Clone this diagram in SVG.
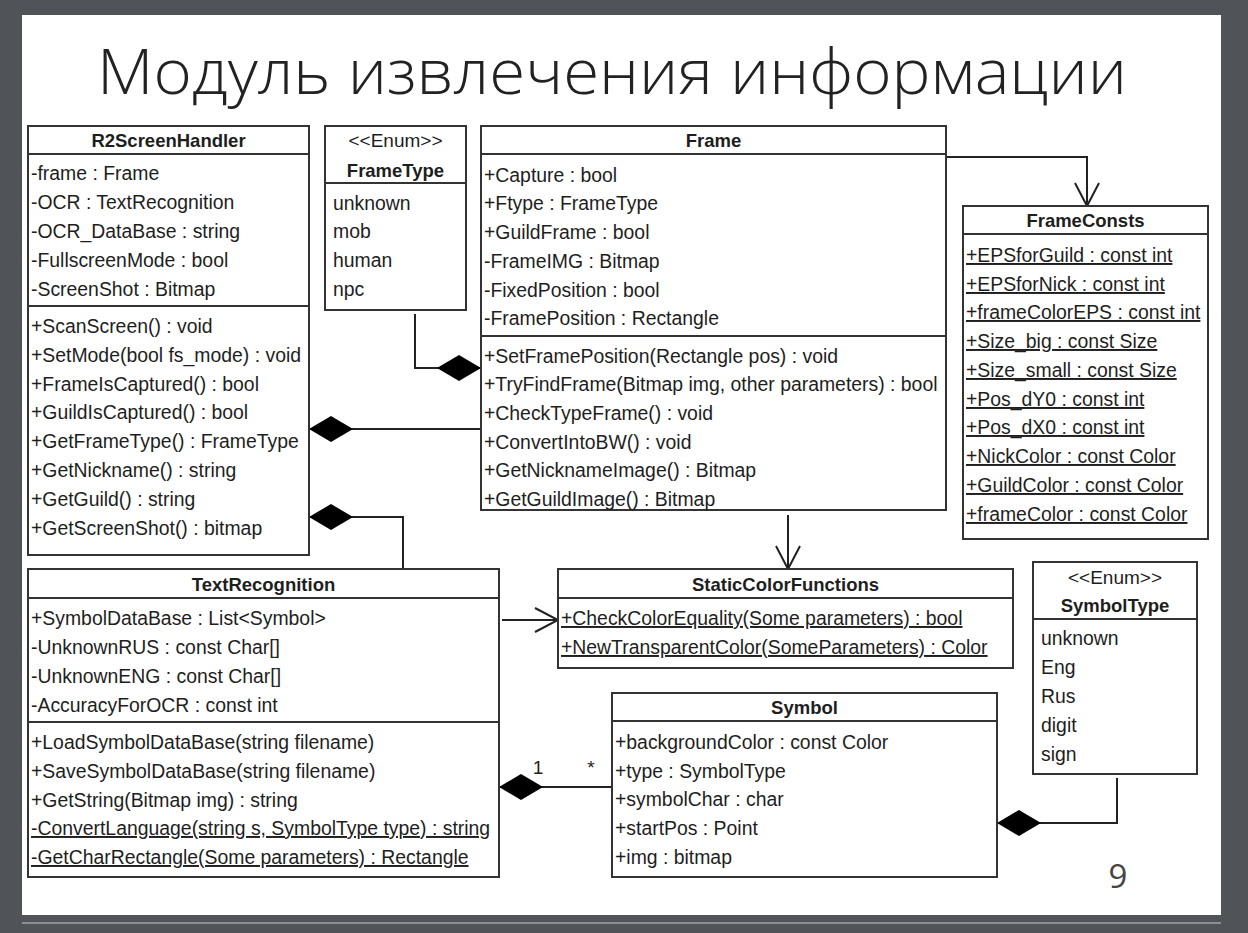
<svg xmlns="http://www.w3.org/2000/svg" width="1248" height="933" viewBox="0 0 1248 933">
<style>
.t{font-family:"Liberation Sans",Arial,sans-serif;font-size:19.4px;fill:#1e1e1e}
.h{font-family:"Liberation Sans",Arial,sans-serif;font-size:18.5px;font-weight:bold;fill:#1e1e1e;text-anchor:middle}
.s{font-family:"Liberation Sans",Arial,sans-serif;font-size:19px;fill:#1e1e1e;text-anchor:middle}
.u{text-decoration:underline}
.box{fill:#fff;stroke:#333;stroke-width:2}
.div{stroke:#333;stroke-width:2}
.c{fill:none;stroke:#222;stroke-width:2}
</style>
<defs>
<marker id="dia" markerUnits="userSpaceOnUse" markerWidth="46" markerHeight="28" viewBox="0 0 46 28" refX="45" refY="14" orient="auto" overflow="visible">
<path d="M1,14 L23,1 L45,14 L23,27 Z" fill="#000"/>
</marker>
<marker id="arr" markerUnits="userSpaceOnUse" markerWidth="26" markerHeight="28" viewBox="0 0 26 28" refX="24" refY="14" orient="auto" overflow="visible">
<path d="M1,2 L24,14 L1,26" fill="none" stroke="#222" stroke-width="2"/>
</marker>
</defs>
<rect x="0" y="0" width="1248" height="933" fill="#505458"/>
<rect x="22" y="15" width="1199" height="900" fill="#fff"/>
<rect x="22" y="922" width="1199" height="2" fill="#8c8f92"/>
<text x="97" y="94" font-family="'Open Sans','Noto Sans',sans-serif" font-weight="300" font-size="62" fill="#222" textLength="1030" lengthAdjust="spacingAndGlyphs">Модуль извлечения информации</text>
<text x="1118" y="888" font-family="'Open Sans','Noto Sans',sans-serif" font-size="33" fill="#444" text-anchor="middle">9</text>

<g id="connectors">
<polyline class="c" points="946,157 1087,157 1087,206" marker-end="url(#arr)"/>
<line class="c" x1="788" y1="515" x2="788" y2="569" marker-end="url(#arr)"/>
<line class="c" x1="502" y1="620" x2="558" y2="620" marker-end="url(#arr)"/>
<polyline class="c" points="415,314 415,368 481,368" marker-end="url(#dia)"/>
<line class="c" x1="481" y1="429" x2="309" y2="429" marker-end="url(#dia)"/>
<polyline class="c" points="403,569 403,517 309,517" marker-end="url(#dia)"/>
<line class="c" x1="612" y1="787" x2="499" y2="787" marker-end="url(#dia)"/>
<polyline class="c" points="1117,778 1117,823 997,823" marker-end="url(#dia)"/>
<text class="s" x="538" y="774">1</text>
<text class="s" x="591" y="774">*</text>
</g>

<g id="R2ScreenHandler">
<rect class="box" x="28" y="126" width="281" height="429"/>
<line class="div" x1="28" y1="154" x2="309" y2="154"/>
<line class="div" x1="28" y1="306" x2="309" y2="306"/>
<text class="h" x="168.5" y="147">R2ScreenHandler</text>
<text class="t" x="31" y="180">-frame : Frame</text>
<text class="t" x="31" y="209">-OCR : TextRecognition</text>
<text class="t" x="31" y="238">-OCR_DataBase : string</text>
<text class="t" x="31" y="267">-FullscreenMode : bool</text>
<text class="t" x="31" y="296">-ScreenShot : Bitmap</text>
<text class="t" x="31" y="333">+ScanScreen() : void</text>
<text class="t" x="31" y="362">+SetMode(bool fs_mode) : void</text>
<text class="t" x="31" y="391">+FrameIsCaptured() : bool</text>
<text class="t" x="31" y="419">+GuildIsCaptured() : bool</text>
<text class="t" x="31" y="448">+GetFrameType() : FrameType</text>
<text class="t" x="31" y="477">+GetNickname() : string</text>
<text class="t" x="31" y="506">+GetGuild() : string</text>
<text class="t" x="31" y="535">+GetScreenShot() : bitmap</text>
</g>

<g id="FrameType">
<rect class="box" x="325" y="126" width="141" height="184"/>
<line class="div" x1="325" y1="183" x2="466" y2="183"/>
<text class="s" x="395.5" y="147">&lt;&lt;Enum&gt;&gt;</text>
<text class="h" x="395.5" y="177">FrameType</text>
<text class="t" x="333" y="210">unknown</text>
<text class="t" x="333" y="238">mob</text>
<text class="t" x="333" y="267">human</text>
<text class="t" x="333" y="296">npc</text>
</g>

<g id="Frame">
<rect class="box" x="481" y="126" width="465" height="384"/>
<line class="div" x1="481" y1="154" x2="946" y2="154"/>
<line class="div" x1="481" y1="336" x2="946" y2="336"/>
<text class="h" x="713.5" y="147">Frame</text>
<text class="t" x="484" y="182">+Capture : bool</text>
<text class="t" x="484" y="210">+Ftype : FrameType</text>
<text class="t" x="484" y="239">+GuildFrame : bool</text>
<text class="t" x="484" y="268">-FrameIMG : Bitmap</text>
<text class="t" x="484" y="297">-FixedPosition : bool</text>
<text class="t" x="484" y="325">-FramePosition : Rectangle</text>
<text class="t" x="484" y="363">+SetFramePosition(Rectangle pos) : void</text>
<text class="t" x="484" y="391">+TryFindFrame(Bitmap img, other parameters) : bool</text>
<text class="t" x="484" y="420">+CheckTypeFrame() : void</text>
<text class="t" x="484" y="449">+ConvertIntoBW() : void</text>
<text class="t" x="484" y="477">+GetNicknameImage() : Bitmap</text>
<text class="t" x="484" y="506">+GetGuildImage() : Bitmap</text>
</g>

<g id="FrameConsts">
<rect class="box" x="963" y="206" width="245" height="333"/>
<line class="div" x1="963" y1="234" x2="1208" y2="234"/>
<text class="h" x="1085.5" y="227">FrameConsts</text>
<text class="t u" x="966" y="262">+EPSforGuild : const int</text>
<text class="t u" x="966" y="291">+EPSforNick : const int</text>
<text class="t u" x="966" y="319">+frameColorEPS : const int</text>
<text class="t u" x="966" y="348">+Size_big : const Size</text>
<text class="t u" x="966" y="377">+Size_small : const Size</text>
<text class="t u" x="966" y="406">+Pos_dY0 : const int</text>
<text class="t u" x="966" y="434">+Pos_dX0 : const int</text>
<text class="t u" x="966" y="463">+NickColor : const Color</text>
<text class="t u" x="966" y="492">+GuildColor : const Color</text>
<text class="t u" x="966" y="521">+frameColor : const Color</text>
</g>

<g id="TextRecognition">
<rect class="box" x="28" y="569" width="471" height="308"/>
<line class="div" x1="28" y1="598" x2="499" y2="598"/>
<line class="div" x1="28" y1="722" x2="499" y2="722"/>
<text class="h" x="263.5" y="591">TextRecognition</text>
<text class="t" x="31" y="625">+SymbolDataBase : List&lt;Symbol&gt;</text>
<text class="t" x="31" y="654">-UnknownRUS : const Char[]</text>
<text class="t" x="31" y="683">-UnknownENG : const Char[]</text>
<text class="t" x="31" y="712">-AccuracyForOCR : const int</text>
<text class="t" x="31" y="749">+LoadSymbolDataBase(string filename)</text>
<text class="t" x="31" y="778">+SaveSymbolDataBase(string filename)</text>
<text class="t" x="31" y="807">+GetString(Bitmap img) : string</text>
<text class="t u" x="31" y="835">-ConvertLanguage(string s, SymbolType type) : string</text>
<text class="t u" x="31" y="864">-GetCharRectangle(Some parameters) : Rectangle</text>
</g>

<g id="StaticColorFunctions">
<rect class="box" x="558" y="569" width="455" height="99"/>
<line class="div" x1="558" y1="598" x2="1013" y2="598"/>
<text class="h" x="785.5" y="591">StaticColorFunctions</text>
<text class="t u" x="561" y="625">+CheckColorEquality(Some parameters) : bool</text>
<text class="t u" x="561" y="654">+NewTransparentColor(SomeParameters) : Color</text>
</g>

<g id="Symbol">
<rect class="box" x="612" y="693" width="385" height="184"/>
<line class="div" x1="612" y1="721" x2="997" y2="721"/>
<text class="h" x="804.5" y="714">Symbol</text>
<text class="t" x="615" y="749">+backgroundColor : const Color</text>
<text class="t" x="615" y="778">+type : SymbolType</text>
<text class="t" x="615" y="806">+symbolChar : char</text>
<text class="t" x="615" y="835">+startPos : Point</text>
<text class="t" x="615" y="864">+img : bitmap</text>
</g>

<g id="SymbolType">
<rect class="box" x="1033" y="562" width="164" height="212"/>
<line class="div" x1="1033" y1="619" x2="1197" y2="619"/>
<text class="s" x="1115" y="584">&lt;&lt;Enum&gt;&gt;</text>
<text class="h" x="1115" y="612">SymbolType</text>
<text class="t" x="1041" y="645">unknown</text>
<text class="t" x="1041" y="674">Eng</text>
<text class="t" x="1041" y="703">Rus</text>
<text class="t" x="1041" y="732">digit</text>
<text class="t" x="1041" y="761">sign</text>
</g>
</svg>
